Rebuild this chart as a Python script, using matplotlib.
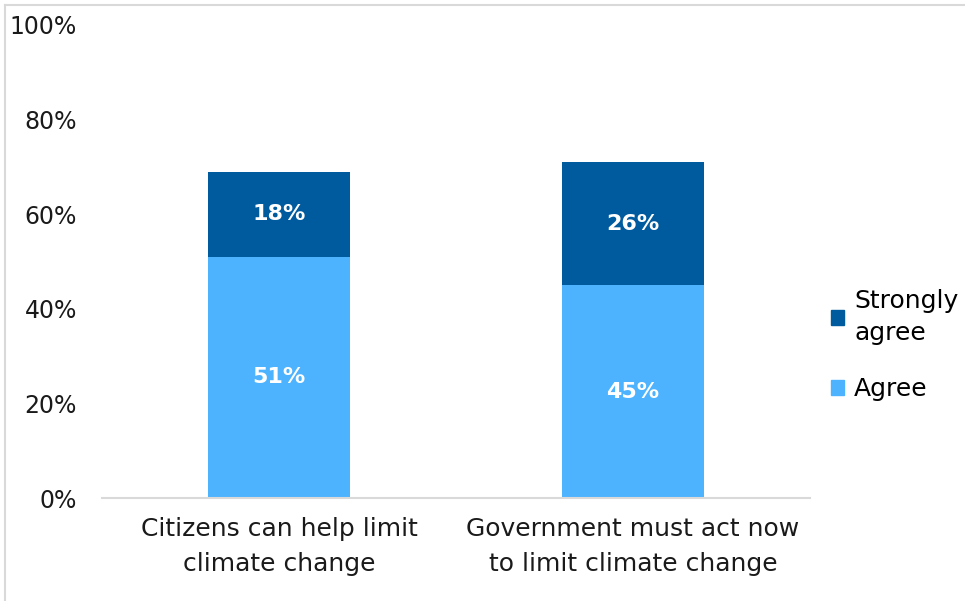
import numpy as np
import matplotlib.pyplot as plt
from matplotlib.lines import Line2D
from matplotlib.patches import Patch

# Data
categories = ['Citizens can help limit\nclimate change',
              'Government must act now\nto limit climate change']
agree = [51, 45]
strongly_agree = [18, 26]
y_ticks = [0, 20, 40, 60, 80, 100]

dark_blue = '#005A9E'
light_blue = '#4DB3FF'

plt.rcParams['font.family'] = ['DejaVu Sans']

fig = plt.figure(figsize=(9.65, 6.01), dpi=100)
ax = fig.add_axes([102 / 965, 1 - 498 / 601, (810 - 102) / 965, (498 - 25) / 601])

x = np.arange(len(categories))
width = 0.4
ax.bar(x, agree, width, color=light_blue, label='Agree', zorder=2)
ax.bar(x, strongly_agree, width, bottom=agree, color=dark_blue, label='Strongly\nagree', zorder=2)

# Value labels
for i in range(len(categories)):
    ax.text(x[i], agree[i] / 2, f'{agree[i]}%', ha='center', va='center',
            color='white', fontsize=16, fontweight='bold')
    ax.text(x[i], agree[i] + strongly_agree[i] / 2, f'{strongly_agree[i]}%', ha='center', va='center',
            color='white', fontsize=16, fontweight='bold')

ax.set_xlim(-0.5, 1.5)
ax.set_ylim(0, 100)
ax.set_yticks(y_ticks)
ax.set_yticklabels([f'{t}%' for t in y_ticks], fontsize=17, color='#1a1a1a')
ax.set_xticks(x)
ax.set_xticklabels(categories, fontsize=18, color='#1a1a1a', linespacing=1.55)
ax.tick_params(axis='both', length=0)
ax.tick_params(axis='y', pad=18)
ax.tick_params(axis='x', pad=14)

for side in ['top', 'right', 'left']:
    ax.spines[side].set_visible(False)
ax.spines['bottom'].set_color('#d9d9d9')
ax.spines['bottom'].set_linewidth(1.5)

# Legend
handles = [Patch(color=dark_blue), Patch(color=light_blue)]
leg = fig.legend(handles, ['Strongly\nagree', 'Agree'], loc='center left',
                 bbox_to_anchor=(808 / 965, 1 - 345 / 601), frameon=False, fontsize=18,
                 handlelength=0.55, handleheight=0.55, handletextpad=0.4, labelspacing=1.3)
for t in leg.get_texts():
    t.set_linespacing(1.4)

# Figure border (top and left)
fig.add_artist(Line2D([5 / 965, 1], [1 - 5 / 601, 1 - 5 / 601], color='#d9d9d9', lw=1.5))
fig.add_artist(Line2D([5 / 965, 5 / 965], [0, 1 - 5 / 601], color='#d9d9d9', lw=1.5))

fig.savefig('out.png', dpi=100)
